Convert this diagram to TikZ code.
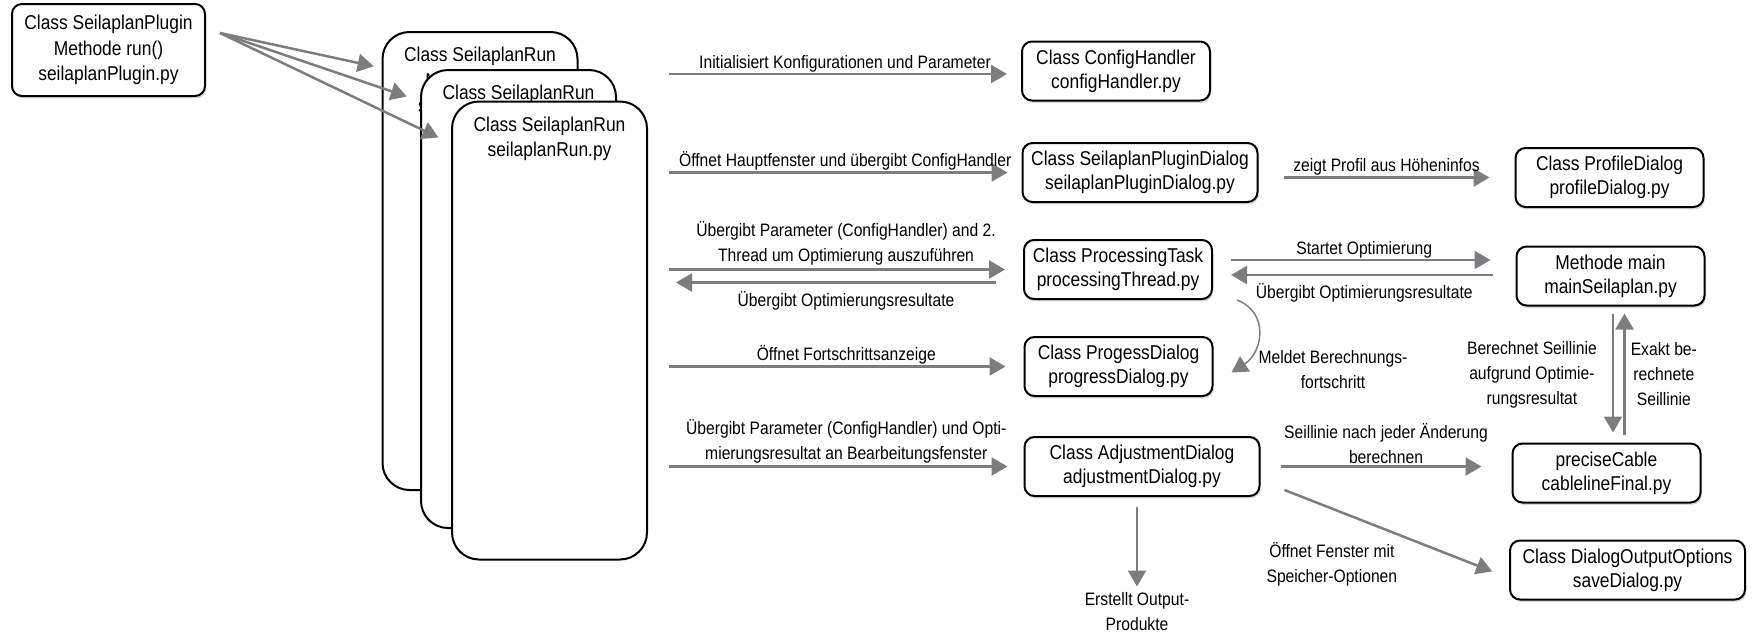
\documentclass[tikz,border=0pt]{standalone}
\usepackage{fontspec}
\setmainfont{Liberation Sans}[FakeStretch=0.87]
\usetikzlibrary{arrows.meta,shadows}
\definecolor{arrowgray}{RGB}{125,125,128}

\begin{document}
\begin{tikzpicture}[x=0.5pt,y=-0.5pt,
  box/.style={draw,line width=1pt,rounded corners=5pt,fill=white,align=center,minimum height=29.5pt,inner sep=1pt,font=\fontsize{10}{12}\selectfont,drop shadow={shadow xshift=0.6pt,shadow yshift=-1.2pt,opacity=0.3}},
  narrow/.style={box,minimum width=94pt},
  wide/.style={box,minimum width=117.5pt},
  runbox/.style={draw,line width=1pt,rounded corners=13.5pt,fill=white,minimum width=97.5pt,minimum height=229pt},
  runtext/.style={anchor=north,inner sep=0pt,align=center,font=\fontsize{10}{12.75}\selectfont},
  lbl/.style={align=center,inner sep=1.5pt,font=\fontsize{9}{12.5}\selectfont},
  flow/.style={draw=arrowgray,line width=1.25pt,-{Triangle[length=8pt,width=9pt]},shorten >=7pt}]
\useasboundingbox (0,0) rectangle (1754,632);

\node[box,minimum width=96.5pt,minimum height=46pt,font=\fontsize{10}{12.75}\selectfont] (plugin) at (108.5,50) {Class SeilaplanPlugin\\Methode run()\\seilaplanPlugin.py};

\node[runbox] (run1) at (480,261) {};
\node[runtext] (run1t) at ([yshift=-8pt]run1.north) {Class SeilaplanRun\\Methode run()\\seilaplanRun.py};
\node[runbox] (run2) at (518.5,299) {};
\node[runtext] (run2t) at ([yshift=-8pt]run2.north) {Class SeilaplanRun};
\node[runbox] (run3) at (549.5,330.5) {};
\node[runtext] (run3t) at ([yshift=-8pt]run3.north) {Class SeilaplanRun\\seilaplanRun.py};

\node[narrow] (config) at (1116,71) {Class ConfigHandler\\configHandler.py};
\node[wide] (plugindlg) at (1140,172.5) {Class SeilaplanPluginDialog\\seilaplanPluginDialog.py};
\node[narrow] (profile) at (1609.5,177.5) {Class ProfileDialog\\profileDialog.py};
\node[narrow] (proc) at (1118,269.5) {Class ProcessingTask\\processingThread.py};
\node[narrow] (main) at (1610.5,276) {Methode main\\mainSeilaplan.py};
\node[narrow] (progress) at (1118.5,366.5) {Class ProgessDialog\\progressDialog.py};
\node[wide] (adjust) at (1142,466.5) {Class AdjustmentDialog\\adjustmentDialog.py};
\node[narrow] (precise) at (1606.5,473) {preciseCable\\cablelineFinal.py};
\node[wide] (save) at (1627.5,570) {Class DialogOutputOptions\\saveDialog.py};
\node[lbl] (outprod) at (1137,612) {Erstellt Output-\\Produkte};
\node[lbl] (meldet) at (1333,370) {Meldet Berechnungs-\\fortschritt};

\draw[flow,shorten >=4pt] ([xshift=7pt,yshift=8.5pt]plugin.east) -- ([yshift=-18.5pt]run1.north west);
\draw[flow] ([xshift=7pt,yshift=8.5pt]plugin.east) -- ([yshift=-16pt]run2.north west);
\draw[flow] ([xshift=7pt,yshift=8.5pt]plugin.east) -- ([yshift=-21.5pt]run3.north west);

\draw[flow] ([xshift=10.5pt,yshift=-1.5pt]run3.east |- config.west) -- ([yshift=-1.5pt]config.west) node[lbl,midway,above=-1pt] (initlbl) {Initialisiert Konfigurationen und Parameter};
\draw[flow] ([xshift=10.5pt]run3.east |- plugindlg.west) -- (plugindlg.west) node[lbl,midway,above=-1pt] (hauptlbl) {Öffnet Hauptfenster und übergibt ConfigHandler};
\draw[flow,shorten >=9pt] ([xshift=10.5pt]run3.east |- proc.west) -- (proc.west) node[lbl,midway,above] (threadlbl) {Übergibt Parameter (ConfigHandler) and 2.\\Thread um Optimierung auszuführen};
\draw[flow,shorten <=13.5pt,shorten >=3.5pt] ([yshift=-6.5pt]proc.west) -- ([xshift=10.5pt,yshift=-6.5pt]run3.east |- proc.west) node[lbl,midway,below=2.3pt] (resultlbl) {Übergibt Optimierungsresultate};
\draw[flow,shorten >=9pt] ([xshift=10.5pt]run3.east |- progress.west) -- (progress.west) node[lbl,midway,above=-1pt] (fortlbl) {Öffnet Fortschrittsanzeige};
\draw[flow,shorten >=8pt] ([xshift=10.5pt]run3.east |- adjust.west) -- (adjust.west) node[lbl,midway,above=-0.5pt] (bearblbl) {Übergibt Parameter (ConfigHandler) und Opti-\\mierungsresultat an Bearbeitungsfenster};

\draw[flow,shorten <=12.5pt,shorten >=12.5pt] (plugindlg.east |- profile.west) -- (profile.west) node[lbl,midway,above=-1pt] (profillbl) {zeigt Profil aus Höheninfos};
\draw[flow,shorten <=9pt,shorten >=12.5pt] ([yshift=4.75pt]proc.east) -- ([yshift=4.75pt]proc.east -| main.west) node[lbl,midway,above=-1pt] (startlbl) {Startet Optimierung};
\draw[flow,shorten <=11.5pt,shorten >=9pt] ([yshift=-2.75pt]proc.east -| main.west) -- ([yshift=-2.75pt]proc.east) node[lbl,midway,below=2.3pt] (backlbl) {Übergibt Optimierungsresultate};
\draw[flow,line width=0.75pt,shorten >=0pt] ([xshift=12pt]proc.south east) .. controls +(33,13) and +(31,-20) .. ([xshift=9pt,yshift=-3pt]progress.east);

\draw[flow,shorten <=3.5pt,shorten >=5pt] ([xshift=1.25pt]main.south) -- ([xshift=1.25pt]main.south |- precise.north) node[lbl,midway,left=6pt] (berlbl) {Berechnet Seillinie\\aufgrund Optimie-\\rungsresultat};
\draw[flow,shorten <=4pt,shorten >=3.5pt] ([xshift=7pt]main.south |- precise.north) -- ([xshift=7pt]main.south) node[lbl,midway,right=1pt] (exaktlbl) {Exakt be-\\rechnete\\Seillinie};

\draw[flow,shorten <=10pt,shorten >=15pt] (adjust.east) -- (adjust.east -| precise.west) node[lbl,midway,above=-0.5pt] (seillbl) {Seillinie nach jeder Änderung\\berechnen};
\draw[flow,shorten >=9pt] ([xshift=12pt,yshift=3.5pt]adjust.south east) -- ([yshift=-4pt]save.west) node[lbl,pos=0.3,anchor=north,xshift=-10pt,yshift=-11pt] (speicherlbl) {Öffnet Fenster mit\\Speicher-Optionen};
\draw[flow,shorten <=5pt,shorten >=1.5pt] ([xshift=-2.5pt]adjust.south) -- (outprod.north);
\end{tikzpicture}
\end{document}
